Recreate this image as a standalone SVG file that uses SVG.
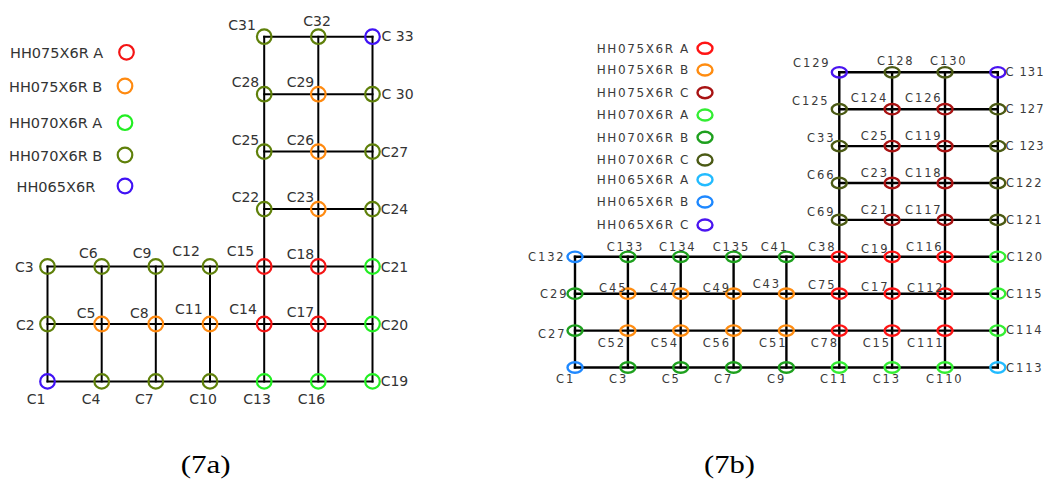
<svg xmlns="http://www.w3.org/2000/svg" width="1047" height="482" viewBox="0 0 1047 482">
<style>
  .bg { fill: #ffffff; }
  .grid line { stroke: #000; stroke-linecap: square; }
  .ga line { stroke-width: 2; }
  .gb line { stroke-width: 2.4; }
  .na circle { fill: none; stroke-width: 2.2; }
  .nb ellipse { fill: none; stroke-width: 2.4; }
  .la { font-family: "DejaVu Sans", Verdana, sans-serif; font-size: 14px; fill: #333; }
  .lga { font-family: "DejaVu Sans", Verdana, sans-serif; font-size: 14.5px; fill: #333; }
  .lb { font-family: "DejaVu Sans", Verdana, sans-serif; font-size: 11.5px; letter-spacing: 1.9px; fill: #3a3a3a; }
  .lb.edge { letter-spacing: 1.1px; }
  .lgb { font-family: "DejaVu Sans", Verdana, sans-serif; font-size: 12px; letter-spacing: 1.6px; fill: #3a3a3a; }
  .cap { font-family: "Liberation Serif", "Times New Roman", serif; font-size: 26px; fill: #000; }
  /* section types, plan (a) */
  .a075A { stroke: #f41414; }
  .a075B { stroke: #ff8a10; }
  .a070A { stroke: #22ee22; }
  .a070B { stroke: #5f800a; }
  .a065 { stroke: #4012f5; }
  /* section types, plan (b) */
  .b075A { stroke: #ff1414; }
  .b075B { stroke: #ff8c10; }
  .b075C { stroke: #a81212; }
  .b070A { stroke: #33ee33; }
  .b070B { stroke: #1ea01e; }
  .b070C { stroke: #4b5a14; }
  .b065A { stroke: #22bbff; }
  .b065B { stroke: #1e88ff; }
  .b065C { stroke: #4a14f0; }
</style>
<rect class="bg" x="0" y="0" width="1047" height="482"/>

<!-- ===== Plan (a): legend ===== -->
<g id="legend-a" class="na">
  <g id="lga-075A"><text class="lga" x="10" y="58">HH075X6R A</text><circle class="a075A" cx="126.5" cy="52.3" r="7.3"/></g>
  <g id="lga-075B"><text class="lga" x="9" y="91.5">HH075X6R B</text><circle class="a075B" cx="125" cy="86" r="7.3"/></g>
  <g id="lga-070A"><text class="lga" x="9" y="128">HH070X6R A</text><circle class="a070A" cx="125" cy="122.7" r="7.3"/></g>
  <g id="lga-070B"><text class="lga" x="9" y="160.5">HH070X6R B</text><circle class="a070B" cx="125" cy="155" r="7.3"/></g>
  <g id="lga-065"><text class="lga" x="16.5" y="191.5">HH065X6R</text><circle class="a065" cx="125" cy="186" r="7.3"/></g>
</g>

<!-- ===== Plan (a): grid lines ===== -->
<g id="connectors-a" class="grid ga">
  <line x1="47.5" y1="381.4" x2="372.5" y2="381.4"/>
  <line x1="47.5" y1="324" x2="372.5" y2="324"/>
  <line x1="47.5" y1="266.5" x2="372.5" y2="266.5"/>
  <line x1="264.2" y1="209.1" x2="372.5" y2="209.1"/>
  <line x1="264.2" y1="151.6" x2="372.5" y2="151.6"/>
  <line x1="264.2" y1="94.2" x2="372.5" y2="94.2"/>
  <line x1="264.2" y1="36.7" x2="372.5" y2="36.7"/>
  <line x1="47.5" y1="266.5" x2="47.5" y2="381.4"/>
  <line x1="101.7" y1="266.5" x2="101.7" y2="381.4"/>
  <line x1="155.8" y1="266.5" x2="155.8" y2="381.4"/>
  <line x1="210" y1="266.5" x2="210" y2="381.4"/>
  <line x1="264.2" y1="36.7" x2="264.2" y2="381.4"/>
  <line x1="318.3" y1="36.7" x2="318.3" y2="381.4"/>
  <line x1="372.5" y1="36.7" x2="372.5" y2="381.4"/>
</g>

<!-- ===== Plan (a): columns ===== -->
<g id="nodes-a" class="na">
  <g id="a-C31"><circle class="a070B" cx="264.2" cy="36.7" r="7.3"/><text class="la" x="228.3" y="30">C31</text></g>
  <g id="a-C32"><circle class="a070B" cx="318.3" cy="36.7" r="7.3"/><text class="la" x="303.3" y="26">C32</text></g>
  <g id="a-C33"><circle class="a065" cx="372.5" cy="36.7" r="7.3"/><text class="la" x="381.5" y="41">C 33</text></g>
  <g id="a-C28"><circle class="a070B" cx="264.2" cy="94.2" r="7.3"/><text class="la" x="231.7" y="87">C28</text></g>
  <g id="a-C29"><circle class="a075B" cx="318.3" cy="94.2" r="7.3"/><text class="la" x="286.7" y="87">C29</text></g>
  <g id="a-C30"><circle class="a070B" cx="372.5" cy="94.2" r="7.3"/><text class="la" x="381.5" y="99">C 30</text></g>
  <g id="a-C25"><circle class="a070B" cx="264.2" cy="151.6" r="7.3"/><text class="la" x="231.7" y="145">C25</text></g>
  <g id="a-C26"><circle class="a075B" cx="318.3" cy="151.6" r="7.3"/><text class="la" x="286.7" y="145">C26</text></g>
  <g id="a-C27"><circle class="a070B" cx="372.5" cy="151.6" r="7.3"/><text class="la" x="380.7" y="157">C27</text></g>
  <g id="a-C22"><circle class="a070B" cx="264.2" cy="209.1" r="7.3"/><text class="la" x="231.7" y="202">C22</text></g>
  <g id="a-C23"><circle class="a075B" cx="318.3" cy="209.1" r="7.3"/><text class="la" x="286.7" y="202">C23</text></g>
  <g id="a-C24"><circle class="a070B" cx="372.5" cy="209.1" r="7.3"/><text class="la" x="380.7" y="214">C24</text></g>
  <g id="a-C3"><circle class="a070B" cx="47.5" cy="266.5" r="7.3"/><text class="la" x="15" y="272">C3</text></g>
  <g id="a-C6"><circle class="a070B" cx="101.7" cy="266.5" r="7.3"/><text class="la" x="79" y="258">C6</text></g>
  <g id="a-C9"><circle class="a070B" cx="155.8" cy="266.5" r="7.3"/><text class="la" x="132.7" y="258">C9</text></g>
  <g id="a-C12"><circle class="a070B" cx="210" cy="266.5" r="7.3"/><text class="la" x="172.3" y="256">C12</text></g>
  <g id="a-C15"><circle class="a075A" cx="264.2" cy="266.5" r="7.3"/><text class="la" x="226.7" y="256">C15</text></g>
  <g id="a-C18"><circle class="a075A" cx="318.3" cy="266.5" r="7.3"/><text class="la" x="286.7" y="259">C18</text></g>
  <g id="a-C21"><circle class="a070A" cx="372.5" cy="266.5" r="7.3"/><text class="la" x="380.7" y="272">C21</text></g>
  <g id="a-C2"><circle class="a070B" cx="47.5" cy="324" r="7.3"/><text class="la" x="16" y="330">C2</text></g>
  <g id="a-C5"><circle class="a075B" cx="101.7" cy="324" r="7.3"/><text class="la" x="76.7" y="318">C5</text></g>
  <g id="a-C8"><circle class="a075B" cx="155.8" cy="324" r="7.3"/><text class="la" x="130" y="318">C8</text></g>
  <g id="a-C11"><circle class="a075B" cx="210" cy="324" r="7.3"/><text class="la" x="175" y="314">C11</text></g>
  <g id="a-C14"><circle class="a075A" cx="264.2" cy="324" r="7.3"/><text class="la" x="229.3" y="314">C14</text></g>
  <g id="a-C17"><circle class="a075A" cx="318.3" cy="324" r="7.3"/><text class="la" x="286.7" y="316.5">C17</text></g>
  <g id="a-C20"><circle class="a070A" cx="372.5" cy="324" r="7.3"/><text class="la" x="380.7" y="330">C20</text></g>
  <g id="a-C1"><circle class="a065" cx="47.5" cy="381.4" r="7.3"/><text class="la" x="26.7" y="404">C1</text></g>
  <g id="a-C4"><circle class="a070B" cx="101.7" cy="381.4" r="7.3"/><text class="la" x="81.7" y="404">C4</text></g>
  <g id="a-C7"><circle class="a070B" cx="155.8" cy="381.4" r="7.3"/><text class="la" x="135" y="404">C7</text></g>
  <g id="a-C10"><circle class="a070B" cx="210" cy="381.4" r="7.3"/><text class="la" x="189.3" y="404">C10</text></g>
  <g id="a-C13"><circle class="a070A" cx="264.2" cy="381.4" r="7.3"/><text class="la" x="243.3" y="404">C13</text></g>
  <g id="a-C16"><circle class="a070A" cx="318.3" cy="381.4" r="7.3"/><text class="la" x="297.7" y="404">C16</text></g>
  <g id="a-C19"><circle class="a070A" cx="372.5" cy="381.4" r="7.3"/><text class="la" x="380.7" y="386">C19</text></g>
</g>

<!-- ===== Plan (b): legend ===== -->
<g id="legend-b" class="nb">
  <g id="lgb-075A"><text class="lgb" x="596.7" y="52.6">HH075X6R A</text><ellipse class="b075A" cx="705" cy="48.3" rx="7.5" ry="5.5"/></g>
  <g id="lgb-075B"><text class="lgb" x="596.7" y="74.3">HH075X6R B</text><ellipse class="b075B" cx="705" cy="70" rx="7.5" ry="5.5"/></g>
  <g id="lgb-075C"><text class="lgb" x="596.7" y="97">HH075X6R C</text><ellipse class="b075C" cx="705" cy="92.7" rx="7.5" ry="5.5"/></g>
  <g id="lgb-070A"><text class="lgb" x="596.7" y="119.3">HH070X6R A</text><ellipse class="b070A" cx="705" cy="115" rx="7.5" ry="5.5"/></g>
  <g id="lgb-070B"><text class="lgb" x="596.7" y="141.6">HH070X6R B</text><ellipse class="b070B" cx="705" cy="137.3" rx="7.5" ry="5.5"/></g>
  <g id="lgb-070C"><text class="lgb" x="596.7" y="164.3">HH070X6R C</text><ellipse class="b070C" cx="705" cy="160" rx="7.5" ry="5.5"/></g>
  <g id="lgb-065A"><text class="lgb" x="596.7" y="184">HH065X6R A</text><ellipse class="b065A" cx="705" cy="179.7" rx="7.5" ry="5.5"/></g>
  <g id="lgb-065B"><text class="lgb" x="596.7" y="206.3">HH065X6R B</text><ellipse class="b065B" cx="705" cy="202" rx="7.5" ry="5.5"/></g>
  <g id="lgb-065C"><text class="lgb" x="596.7" y="229.3">HH065X6R C</text><ellipse class="b065C" cx="705" cy="225" rx="7.5" ry="5.5"/></g>
</g>

<!-- ===== Plan (b): grid lines ===== -->
<g id="connectors-b" class="grid gb">
  <line x1="575" y1="256.8" x2="997.8" y2="256.8"/>
  <line x1="575" y1="293.7" x2="997.8" y2="293.7"/>
  <line x1="575" y1="330.6" x2="997.8" y2="330.6"/>
  <line x1="575" y1="367.5" x2="997.8" y2="367.5"/>
  <line x1="839.3" y1="72.3" x2="997.8" y2="72.3"/>
  <line x1="839.3" y1="109.2" x2="997.8" y2="109.2"/>
  <line x1="839.3" y1="146.1" x2="997.8" y2="146.1"/>
  <line x1="839.3" y1="183" x2="997.8" y2="183"/>
  <line x1="839.3" y1="219.9" x2="997.8" y2="219.9"/>
  <line x1="575" y1="256.8" x2="575" y2="367.5"/>
  <line x1="627.9" y1="256.8" x2="627.9" y2="367.5"/>
  <line x1="680.7" y1="256.8" x2="680.7" y2="367.5"/>
  <line x1="733.6" y1="256.8" x2="733.6" y2="367.5"/>
  <line x1="786.4" y1="256.8" x2="786.4" y2="367.5"/>
  <line x1="839.3" y1="72.3" x2="839.3" y2="367.5"/>
  <line x1="892.1" y1="72.3" x2="892.1" y2="367.5"/>
  <line x1="945" y1="72.3" x2="945" y2="367.5"/>
  <line x1="997.8" y1="72.3" x2="997.8" y2="367.5"/>
</g>

<!-- ===== Plan (b): columns ===== -->
<g id="nodes-b" class="nb">
  <g id="b-C129"><ellipse class="b065C" cx="839.3" cy="72.3" rx="7.5" ry="5.2"/><text class="lb" x="793" y="67">C129</text></g>
  <g id="b-C128"><ellipse class="b070C" cx="892.1" cy="72.3" rx="7.5" ry="5.2"/><text class="lb" x="877" y="65">C128</text></g>
  <g id="b-C130"><ellipse class="b070C" cx="945" cy="72.3" rx="7.5" ry="5.2"/><text class="lb" x="930" y="65">C130</text></g>
  <g id="b-C131"><ellipse class="b065C" cx="997.8" cy="72.3" rx="7.5" ry="5.2"/><text class="lb edge" x="1005.5" y="76">C 131</text></g>

  <g id="b-C125"><ellipse class="b070C" cx="839.3" cy="109.2" rx="7.5" ry="5.2"/><text class="lb" x="792" y="105">C125</text></g>
  <g id="b-C124"><ellipse class="b075C" cx="892.1" cy="109.2" rx="7.5" ry="5.2"/><text class="lb" x="850.7" y="102">C124</text></g>
  <g id="b-C126"><ellipse class="b075C" cx="945" cy="109.2" rx="7.5" ry="5.2"/><text class="lb" x="905" y="102">C126</text></g>
  <g id="b-C127"><ellipse class="b070C" cx="997.8" cy="109.2" rx="7.5" ry="5.2"/><text class="lb edge" x="1005.5" y="113">C 127</text></g>

  <g id="b-C33"><ellipse class="b070C" cx="839.3" cy="146.1" rx="7.5" ry="5.2"/><text class="lb" x="807" y="141.7">C33</text></g>
  <g id="b-C25"><ellipse class="b075C" cx="892.1" cy="146.1" rx="7.5" ry="5.2"/><text class="lb" x="860.7" y="140">C25</text></g>
  <g id="b-C119"><ellipse class="b075C" cx="945" cy="146.1" rx="7.5" ry="5.2"/><text class="lb" x="905" y="140">C119</text></g>
  <g id="b-C123"><ellipse class="b070C" cx="997.8" cy="146.1" rx="7.5" ry="5.2"/><text class="lb edge" x="1005.5" y="150">C 123</text></g>

  <g id="b-C66"><ellipse class="b070C" cx="839.3" cy="183" rx="7.5" ry="5.2"/><text class="lb" x="807" y="179">C66</text></g>
  <g id="b-C23"><ellipse class="b075C" cx="892.1" cy="183" rx="7.5" ry="5.2"/><text class="lb" x="860.7" y="177.3">C23</text></g>
  <g id="b-C118"><ellipse class="b075C" cx="945" cy="183" rx="7.5" ry="5.2"/><text class="lb" x="905" y="177.3">C118</text></g>
  <g id="b-C122"><ellipse class="b070C" cx="997.8" cy="183" rx="7.5" ry="5.2"/><text class="lb" x="1006" y="187">C122</text></g>

  <g id="b-C69"><ellipse class="b070C" cx="839.3" cy="219.9" rx="7.5" ry="5.2"/><text class="lb" x="807" y="216">C69</text></g>
  <g id="b-C21"><ellipse class="b075C" cx="892.1" cy="219.9" rx="7.5" ry="5.2"/><text class="lb" x="860.7" y="214">C21</text></g>
  <g id="b-C117"><ellipse class="b075C" cx="945" cy="219.9" rx="7.5" ry="5.2"/><text class="lb" x="905" y="214">C117</text></g>
  <g id="b-C121"><ellipse class="b070C" cx="997.8" cy="219.9" rx="7.5" ry="5.2"/><text class="lb" x="1006" y="224">C121</text></g>

  <g id="b-C132"><ellipse class="b065B" cx="575" cy="256.8" rx="7.5" ry="5.2"/><text class="lb" x="528" y="260.7">C132</text></g>
  <g id="b-C133"><ellipse class="b070B" cx="627.9" cy="256.8" rx="7.5" ry="5.2"/><text class="lb" x="606.7" y="250.7">C133</text></g>
  <g id="b-C134"><ellipse class="b070B" cx="680.7" cy="256.8" rx="7.5" ry="5.2"/><text class="lb" x="659" y="250.7">C134</text></g>
  <g id="b-C135"><ellipse class="b070B" cx="733.6" cy="256.8" rx="7.5" ry="5.2"/><text class="lb" x="712.7" y="250.7">C135</text></g>
  <g id="b-C41"><ellipse class="b070B" cx="786.4" cy="256.8" rx="7.5" ry="5.2"/><text class="lb" x="760.7" y="250.7">C41</text></g>
  <g id="b-C38"><ellipse class="b075A" cx="839.3" cy="256.8" rx="7.5" ry="5.2"/><text class="lb" x="808" y="250.5">C38</text></g>
  <g id="b-C19"><ellipse class="b075A" cx="892.1" cy="256.8" rx="7.5" ry="5.2"/><text class="lb" x="861" y="253">C19</text></g>
  <g id="b-C116"><ellipse class="b075A" cx="945" cy="256.8" rx="7.5" ry="5.2"/><text class="lb" x="906" y="250.7">C116</text></g>
  <g id="b-C120"><ellipse class="b070A" cx="997.8" cy="256.8" rx="7.5" ry="5.2"/><text class="lb" x="1006.5" y="260.7">C120</text></g>

  <g id="b-C29"><ellipse class="b070B" cx="575" cy="293.7" rx="7.5" ry="5.2"/><text class="lb" x="540" y="298.3">C29</text></g>
  <g id="b-C45"><ellipse class="b075B" cx="627.9" cy="293.7" rx="7.5" ry="5.2"/><text class="lb" x="599" y="291.7">C45</text></g>
  <g id="b-C47"><ellipse class="b075B" cx="680.7" cy="293.7" rx="7.5" ry="5.2"/><text class="lb" x="650" y="291.7">C47</text></g>
  <g id="b-C49"><ellipse class="b075B" cx="733.6" cy="293.7" rx="7.5" ry="5.2"/><text class="lb" x="702.7" y="291.7">C49</text></g>
  <g id="b-C43"><ellipse class="b075B" cx="786.4" cy="293.7" rx="7.5" ry="5.2"/><text class="lb" x="752.7" y="288.3">C43</text></g>
  <g id="b-C75"><ellipse class="b075A" cx="839.3" cy="293.7" rx="7.5" ry="5.2"/><text class="lb" x="808" y="289">C75</text></g>
  <g id="b-C17"><ellipse class="b075A" cx="892.1" cy="293.7" rx="7.5" ry="5.2"/><text class="lb" x="861" y="290.7">C17</text></g>
  <g id="b-C112"><ellipse class="b075A" cx="945" cy="293.7" rx="7.5" ry="5.2"/><text class="lb" x="907" y="291.7">C112</text></g>
  <g id="b-C115"><ellipse class="b070A" cx="997.8" cy="293.7" rx="7.5" ry="5.2"/><text class="lb" x="1006" y="297.7">C115</text></g>

  <g id="b-C27"><ellipse class="b070B" cx="575" cy="330.6" rx="7.5" ry="5.2"/><text class="lb" x="538" y="338">C27</text></g>
  <g id="b-C52"><ellipse class="b075B" cx="627.9" cy="330.6" rx="7.5" ry="5.2"/><text class="lb" x="597.7" y="346.7">C52</text></g>
  <g id="b-C54"><ellipse class="b075B" cx="680.7" cy="330.6" rx="7.5" ry="5.2"/><text class="lb" x="650.7" y="346.7">C54</text></g>
  <g id="b-C56"><ellipse class="b075B" cx="733.6" cy="330.6" rx="7.5" ry="5.2"/><text class="lb" x="702.7" y="346.7">C56</text></g>
  <g id="b-C51"><ellipse class="b075B" cx="786.4" cy="330.6" rx="7.5" ry="5.2"/><text class="lb" x="759" y="346.7">C51</text></g>
  <g id="b-C78"><ellipse class="b075A" cx="839.3" cy="330.6" rx="7.5" ry="5.2"/><text class="lb" x="810.7" y="346.7">C78</text></g>
  <g id="b-C15"><ellipse class="b075A" cx="892.1" cy="330.6" rx="7.5" ry="5.2"/><text class="lb" x="862.7" y="346.7">C15</text></g>
  <g id="b-C111"><ellipse class="b075A" cx="945" cy="330.6" rx="7.5" ry="5.2"/><text class="lb" x="907" y="346.7">C111</text></g>
  <g id="b-C114"><ellipse class="b070A" cx="997.8" cy="330.6" rx="7.5" ry="5.2"/><text class="lb" x="1006" y="333.7">C114</text></g>

  <g id="b-C1"><ellipse class="b065B" cx="575" cy="367.5" rx="7.5" ry="5.2"/><text class="lb" x="556" y="383.3">C1</text></g>
  <g id="b-C3"><ellipse class="b070B" cx="627.9" cy="367.5" rx="7.5" ry="5.2"/><text class="lb" x="609" y="383.3">C3</text></g>
  <g id="b-C5"><ellipse class="b070B" cx="680.7" cy="367.5" rx="7.5" ry="5.2"/><text class="lb" x="661.7" y="383.3">C5</text></g>
  <g id="b-C7"><ellipse class="b070B" cx="733.6" cy="367.5" rx="7.5" ry="5.2"/><text class="lb" x="714" y="383.3">C7</text></g>
  <g id="b-C9"><ellipse class="b070B" cx="786.4" cy="367.5" rx="7.5" ry="5.2"/><text class="lb" x="767" y="383.3">C9</text></g>
  <g id="b-C11"><ellipse class="b070A" cx="839.3" cy="367.5" rx="7.5" ry="5.2"/><text class="lb" x="820" y="383.3">C11</text></g>
  <g id="b-C13"><ellipse class="b070A" cx="892.1" cy="367.5" rx="7.5" ry="5.2"/><text class="lb" x="872.7" y="383.3">C13</text></g>
  <g id="b-C110"><ellipse class="b070A" cx="945" cy="367.5" rx="7.5" ry="5.2"/><text class="lb" x="926" y="383.3">C110</text></g>
  <g id="b-C113"><ellipse class="b065A" cx="997.8" cy="367.5" rx="7.5" ry="5.2"/><text class="lb" x="1006" y="371.7">C113</text></g>
</g>

<!-- ===== Captions ===== -->
<text class="cap" x="180.7" y="473" textLength="50" lengthAdjust="spacingAndGlyphs">(7a)</text>
<text class="cap" x="704" y="473" textLength="51" lengthAdjust="spacingAndGlyphs">(7b)</text>
</svg>
